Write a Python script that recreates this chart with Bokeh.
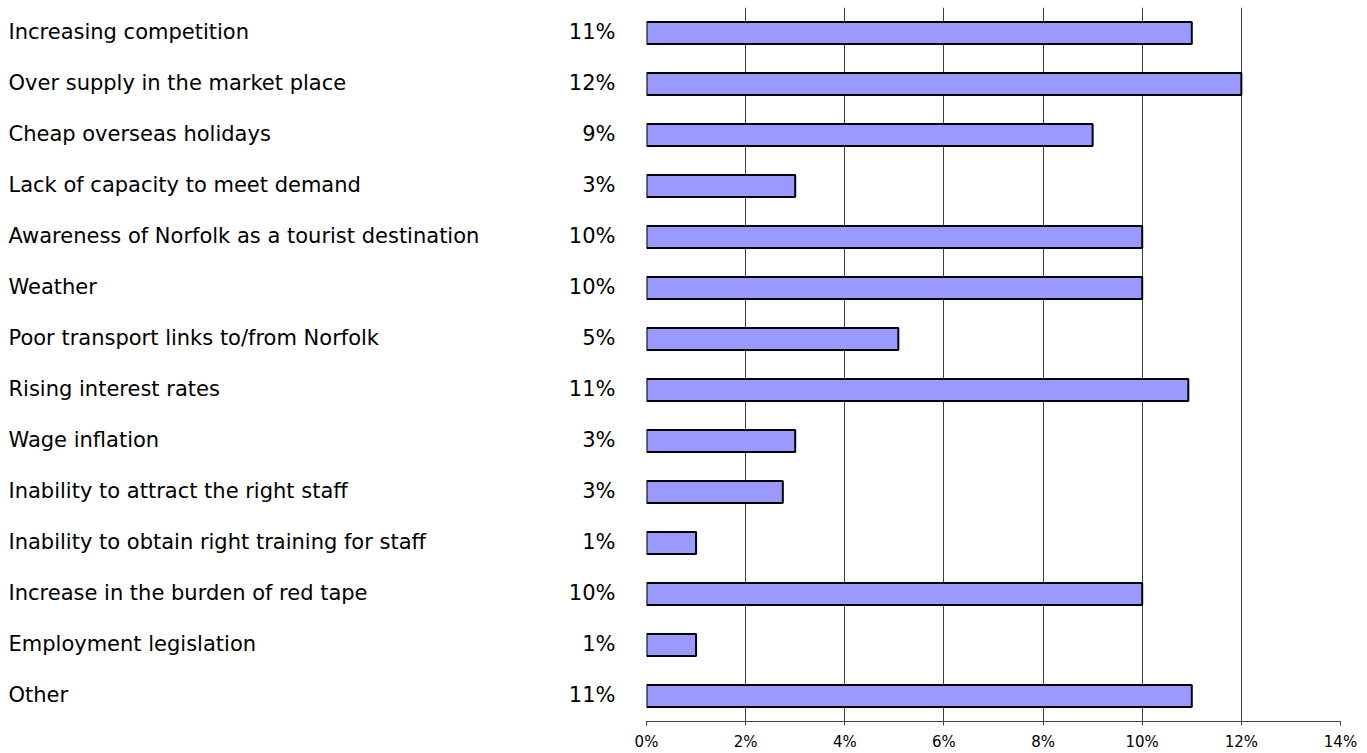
from bokeh.plotting import figure
from bokeh.layouts import row
from bokeh.models import Range1d, FactorRange, ColumnDataSource, FixedTicker, PrintfTickFormatter
from bokeh.core.properties import value
from bokeh.embed import file_html
from bokeh.resources import INLINE

categories = [
    "Increasing competition",
    "Over supply in the market place",
    "Cheap overseas holidays",
    "Lack of capacity to meet demand",
    "Awareness of Norfolk as a tourist destination",
    "Weather",
    "Poor transport links to/from Norfolk",
    "Rising interest rates",
    "Wage inflation",
    "Inability to attract the right staff",
    "Inability to obtain right training for staff",
    "Increase in the burden of red tape",
    "Employment legislation",
    "Other",
]
values = [11.0, 12.0, 9.0, 3.0, 10.0, 10.0, 5.08, 10.93, 3.0, 2.75, 1.0, 10.0, 1.0, 11.0]
value_labels = ["11%", "12%", "9%", "3%", "10%", "10%", "5%", "11%", "3%", "3%", "1%", "10%", "1%", "11%"]
x_ticks = [0, 2, 4, 6, 8, 10, 12, 14]

TOP, BOTTOM = 7, 30
LABEL_FONT = "DejaVu Sans"
LABEL_SIZE = "21px"
PAD = 20

factors = list(reversed(categories))
src = ColumnDataSource(dict(cat=categories, val=values, lab=value_labels))

# Left panel: category names and percentage labels
left = figure(width=646 - PAD, height=753, output_backend="svg", toolbar_location=None,
              x_range=Range1d(0, 646 - PAD), y_range=FactorRange(factors=factors, range_padding=0),
              min_border_left=0, min_border_right=0, min_border_top=TOP, min_border_bottom=BOTTOM)
left.axis.visible = False
left.grid.visible = False
left.outline_line_color = None
left.text(x=8, y="cat", text="cat", source=src, text_align="left", text_baseline="middle",
          text_font=value(LABEL_FONT), text_font_size=LABEL_SIZE, text_color="black", y_offset=-1.5)
left.text(x=615, y="cat", text="lab", source=src, text_align="right", text_baseline="middle",
          text_font=value(LABEL_FONT), text_font_size=LABEL_SIZE, text_color="black", y_offset=-1.5)

# Right panel: bars
p = figure(width=721 + PAD, height=753, output_backend="svg", toolbar_location=None,
           x_range=Range1d(0, 14), y_range=FactorRange(factors=factors, range_padding=0),
           min_border_left=PAD, min_border_right=27, min_border_top=TOP, min_border_bottom=BOTTOM)
p.outline_line_color = None
p.yaxis.visible = False
p.ygrid.visible = False
p.xgrid.ticker = FixedTicker(ticks=x_ticks)
p.xgrid.grid_line_color = "#404040"
p.xgrid.grid_line_width = 1
xa = p.xaxis[0]
xa.ticker = FixedTicker(ticks=x_ticks)
xa.formatter = PrintfTickFormatter(format="%d%%")
xa.axis_line_color = "#404040"
xa.major_tick_line_color = "#404040"
xa.major_tick_out = 4
xa.major_tick_in = 0
xa.minor_tick_line_color = None
xa.major_label_standoff = 7
xa.major_label_text_font = "DejaVu Sans"
xa.major_label_text_font_size = "15px"
xa.major_label_text_font_style = "normal"
xa.major_label_text_color = "black"

p.hbar(y="cat", left=0, right="val", height=0.43, source=src,
       fill_color="#9999FF", line_color="black", line_width=2)

layout = row(left, p, spacing=0)
open("out.html", "w").write(file_html(layout, INLINE))
